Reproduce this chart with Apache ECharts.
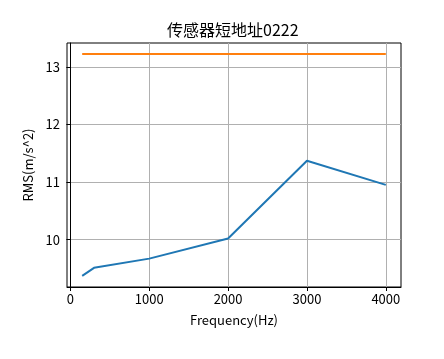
<!DOCTYPE html>
<html>
<head>
<meta charset="utf-8">
<script src="https://cdn.jsdelivr.net/npm/echarts@6/dist/echarts.min.js"></script>
<style>html,body{margin:0;padding:0;background:#fff}#c{width:444px;height:359px}</style>
</head>
<body>
<div id="c"></div>
<script>
var titleText = '传感器短地址0222';
var frequencies = [150, 300, 1000, 2000, 3000, 4000];
var rmsValues = [9.37, 9.51, 9.67, 10.02, 11.37, 10.95];
var thresholdValues = [13.22, 13.22, 13.22, 13.22, 13.22, 13.22];
var xName = 'Frequency(Hz)';
var yName = 'RMS(m/s^2)';

function pairs(xs, ys) { return xs.map(function (x, i) { return [x, ys[i]]; }); }
function padExtent(arrs) {
  var all = [].concat.apply([], arrs);
  var mn = Math.min.apply(null, all), mx = Math.max.apply(null, all);
  var m = (mx - mn) * 0.05;
  return [mn - m, mx + m];
}
var xExt = padExtent([frequencies]);
var yExt = padExtent([rmsValues, thresholdValues]);
var FONT = '"Noto Sans CJK SC", "DejaVu Sans", sans-serif';

var chart = echarts.init(document.getElementById('c'), null, {renderer: 'canvas'});
chart.setOption({
  animation: false,
  backgroundColor: '#fff',
  title: {
    text: titleText, left: 162, top: 17,
    textStyle: {fontFamily: FONT, fontSize: 16, fontWeight: 'normal', color: '#000'}
  },
  grid: {left: 67, right: 43, top: 43, bottom: 72, show: true, borderColor: '#000', borderWidth: 1, containLabel: false},
  xAxis: {
    type: 'value', min: xExt[0], max: xExt[1],
    name: xName, nameLocation: 'middle', nameGap: 27,
    nameTextStyle: {fontFamily: FONT, fontSize: 13, color: '#000'},
    axisLine: {show: true, lineStyle: {color: '#000', width: 1}},
    axisTick: {show: true, length: 4, lineStyle: {color: '#000'}},
    axisLabel: {showMinLabel: false, showMaxLabel: false, fontFamily: FONT, fontSize: 13, color: '#000', margin: 6,
      formatter: function (v) { return String(Math.round(v)); }},
    splitLine: {show: true, showMinLine: false, showMaxLine: false, lineStyle: {color: '#b0b0b0', width: 1}}
  },
  yAxis: {
    type: 'value', min: yExt[0], max: yExt[1],
    name: yName, nameLocation: 'middle', nameGap: 30, nameRotate: 90,
    nameTextStyle: {fontFamily: FONT, fontSize: 13, color: '#000'},
    axisLine: {show: true, lineStyle: {color: '#000', width: 1}},
    axisTick: {show: true, length: 4, lineStyle: {color: '#000'}},
    axisLabel: {showMinLabel: false, showMaxLabel: false, fontFamily: FONT, fontSize: 13, color: '#000', margin: 7},
    splitLine: {show: true, showMinLine: false, showMaxLine: false, lineStyle: {color: '#b0b0b0', width: 1}}
  },
  series: [
    {type: 'line', data: pairs(frequencies, rmsValues), showSymbol: false, lineStyle: {color: '#1f77b4', width: 2}, itemStyle: {color: '#1f77b4'}},
    {type: 'line', data: pairs(frequencies, thresholdValues), showSymbol: false, lineStyle: {color: '#ff7f0e', width: 2}, itemStyle: {color: '#ff7f0e'}}
  ]
});
</script>
</body>
</html>
